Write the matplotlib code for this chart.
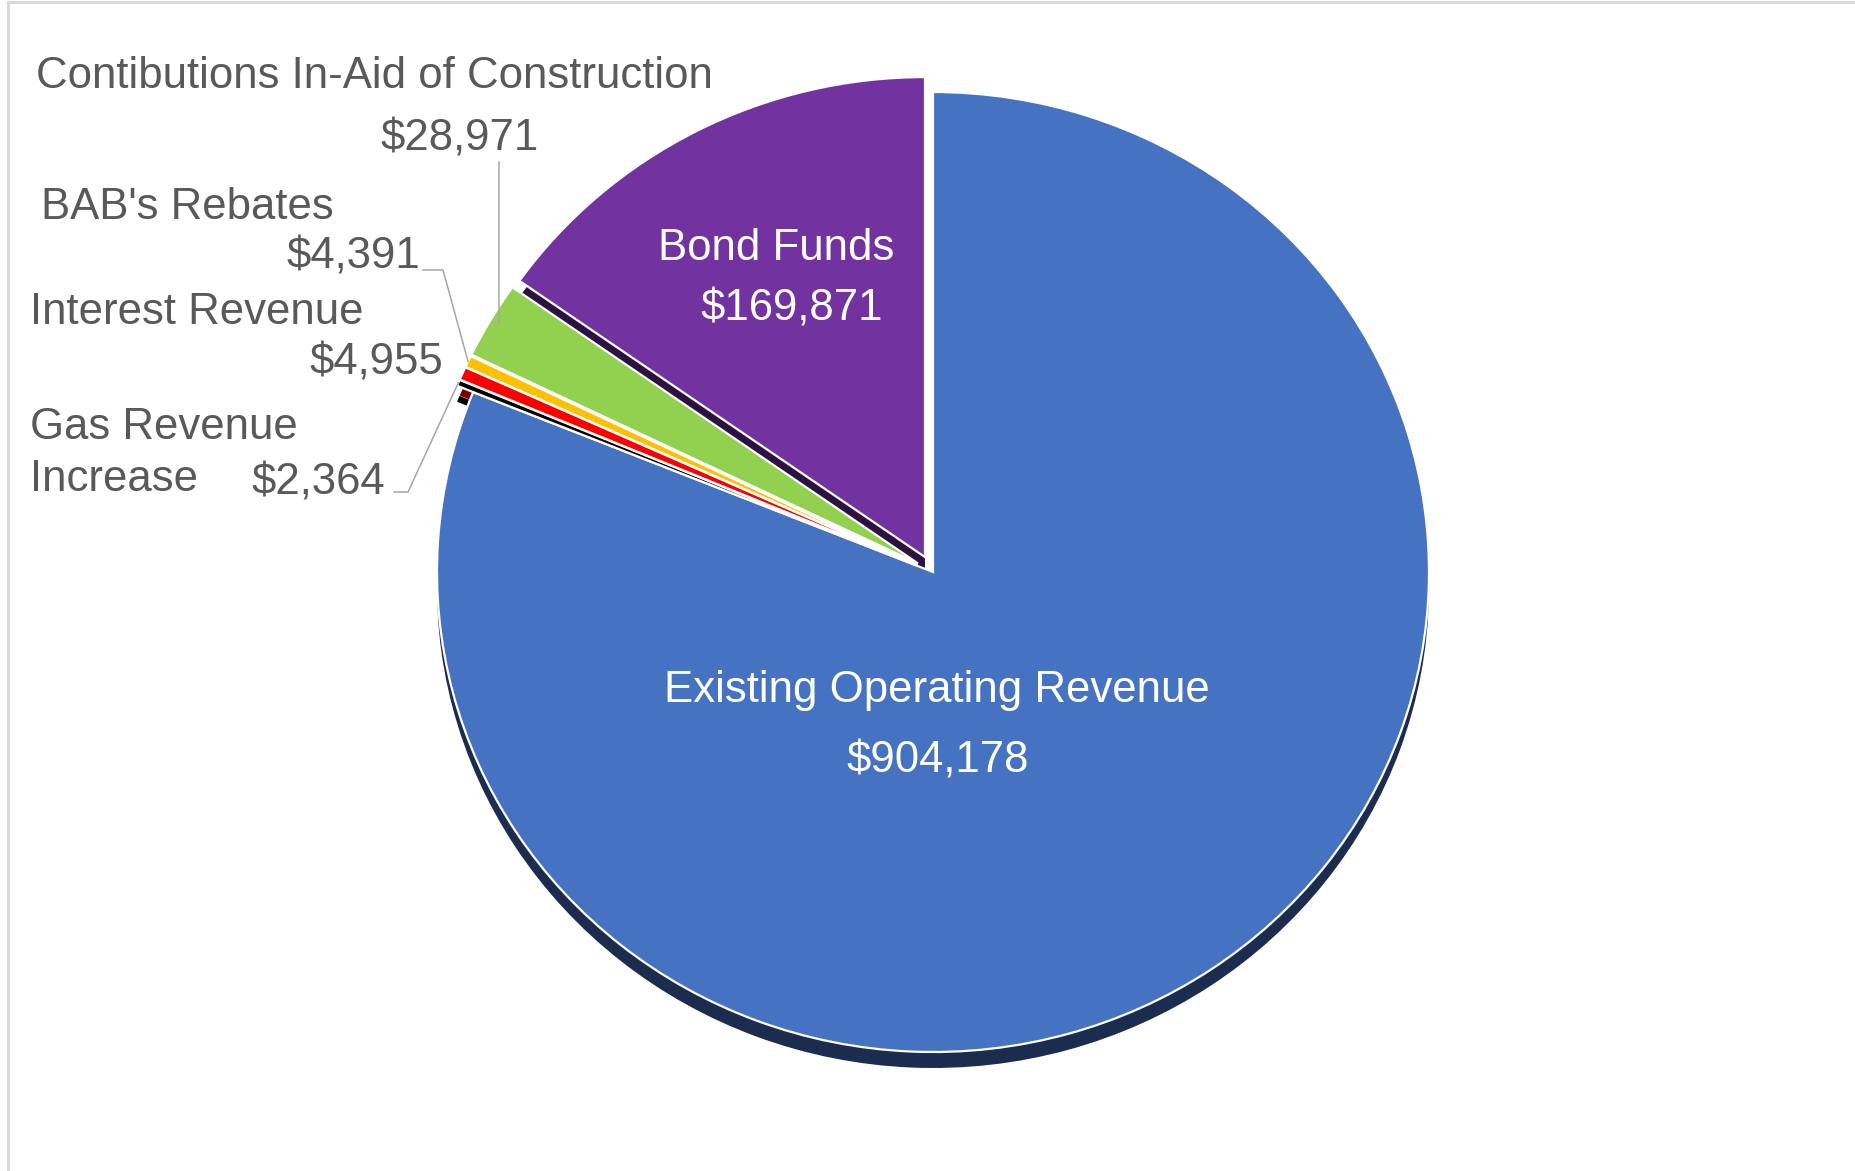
import matplotlib
matplotlib.use('Agg')
import matplotlib.pyplot as plt
import matplotlib.patches as mpatches
from matplotlib.lines import Line2D
import numpy as np

plt.rcParams['font.family'] = ['Liberation Sans', 'DejaVu Sans']

# data, clockwise from 12 o'clock
names = ['Existing Operating Revenue', 'Gas Revenue\nIncrease', 'Interest Revenue',
         "BAB's Rebates", 'Contibutions In-Aid of Construction', 'Bond Funds']
values = [904178, 2364, 4955, 4391, 28971, 169871]
value_labels = ['$904,178', '$2,364', '$4,955', '$4,391', '$28,971', '$169,871']
colors = ['#4573c2', '#000000', '#ff0000', '#ffc000', '#92d050', '#7233a0']
side_colors = ['#1c2c4f', '#000000', '#7a0000', '#7f6000', '#4a6a28', '#2b1240']
explode = [0, 0.035, 0.035, 0.035, 0.035, 0.035]

W, H = 1856, 1171
gray = '#595959'
fs = 31.5

fig = plt.figure(figsize=(W / 100, H / 100), dpi=100)


def fx(x):
    return x / W


def fy(y):
    return 1 - y / H


# pie geometry (pixels): slightly tilted, so an ellipse
cx, cy, rx, ry = 933, 572, 496, 480
depth = 16 / ry   # thickness of the 3D side wall
lim = 1.1
ax = fig.add_axes([fx(cx - lim * rx), fy(cy + lim * ry), 2 * lim * rx / W, 2 * lim * ry / H])
wedges, _ = ax.pie(values, startangle=90, counterclock=False, colors=colors,
                   explode=explode, wedgeprops=dict(edgecolor='white', linewidth=1.6))
ax.set_aspect('auto')
ax.set_xlim(-lim, lim)
ax.set_ylim(-lim, lim)
ax.axis('off')

# side walls
for w, sc in zip(wedges, side_colors):
    wall = mpatches.Wedge((w.center[0], w.center[1] - depth), w.r, w.theta1, w.theta2,
                          facecolor=sc, edgecolor='none', zorder=0.5)
    ax.add_patch(wall)
    w.set_zorder(1)


def rim(i, r=1.0):
    w = wedges[i]
    th = np.deg2rad((w.theta1 + w.theta2) / 2)
    p = (w.center[0] + r * np.cos(th), w.center[1] + r * np.sin(th))
    return fig.transFigure.inverted().transform(ax.transData.transform(p))


# labels inside
fig.text(fx(937), fy(702), names[0], ha='center', va='baseline', color='white', fontsize=fs)
fig.text(fx(938), fy(773), value_labels[0], ha='center', va='baseline', color='white', fontsize=fs)
fig.text(fx(776), fy(260), names[5], ha='center', va='baseline', color='white', fontsize=fs)
fig.text(fx(792), fy(321), value_labels[5], ha='center', va='baseline', color='white', fontsize=fs)

# labels outside
fig.text(fx(36), fy(88), names[4], ha='left', va='baseline', color=gray, fontsize=fs)
fig.text(fx(539), fy(151), value_labels[4], ha='right', va='baseline', color=gray, fontsize=fs)
fig.text(fx(41), fy(219), names[3], ha='left', va='baseline', color=gray, fontsize=fs)
fig.text(fx(420), fy(269), value_labels[3], ha='right', va='baseline', color=gray, fontsize=fs)
fig.text(fx(30), fy(324), names[2], ha='left', va='baseline', color=gray, fontsize=fs)
fig.text(fx(443), fy(375), value_labels[2], ha='right', va='baseline', color=gray, fontsize=fs)
gas1, gas2 = names[1].split('\n')
fig.text(fx(30), fy(439), gas1, ha='left', va='baseline', color=gray, fontsize=fs)
fig.text(fx(30), fy(491), gas2, ha='left', va='baseline', color=gray, fontsize=fs)
fig.text(fx(385), fy(494), value_labels[1], ha='right', va='baseline', color=gray, fontsize=fs)

# leader lines
lc = '#a6a6a6'
e = rim(4, 0.98)
fig.add_artist(Line2D([e[0], e[0]], [fy(162), e[1]], color=lc, lw=1.1, transform=fig.transFigure))
e = rim(3, 1.0)
fig.add_artist(Line2D([fx(423), fx(443), e[0]], [fy(270), fy(270), e[1]], color=lc, lw=1.1,
                      transform=fig.transFigure))
e = rim(1, 1.0)
fig.add_artist(Line2D([fx(394), fx(408), e[0]], [fy(492), fy(492), e[1]], color=lc, lw=1.1,
                      transform=fig.transFigure))

# chart border (top and left visible)
fig.add_artist(Line2D([fx(8), fx(8)], [fy(2), 0], color='#d9d9d9', lw=2.2, transform=fig.transFigure))
fig.add_artist(Line2D([fx(8), 1], [fy(2), fy(2)], color='#d9d9d9', lw=2.2, transform=fig.transFigure))

fig.savefig('out.png', dpi=100)
